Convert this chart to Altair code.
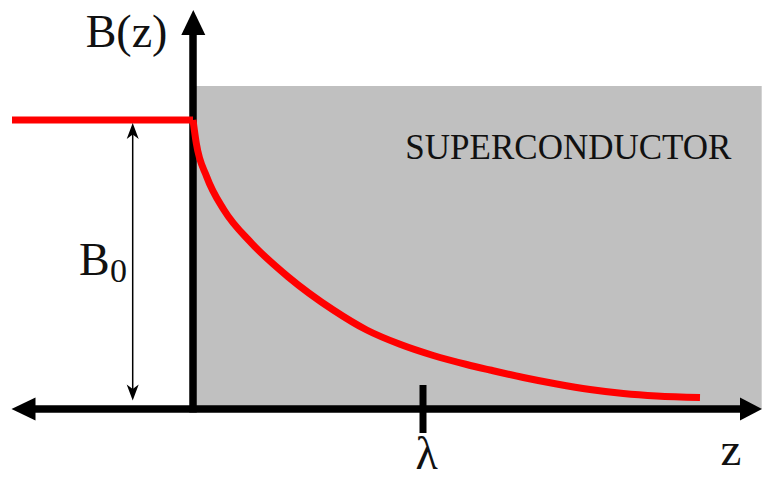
import altair as alt
import pandas as pd

# ---- values (z: horizontal, B: field height above the z axis) ----
flat_z = [-181, 0]
flat_B = [289, 289]

curve_z = [0, 3.3, 13.7, 31, 58.7, 95, 140.3, 173.7, 207, 240.3, 273.7, 297, 330.3, 363.7, 397, 430.3, 463.7, 507]
curve_B = [289, 265.7, 232.3, 199, 165.7, 132.3, 99, 79, 64.7, 53.5, 44.5, 39, 31.5, 25, 19.5, 15.5, 13, 11.5]

region_z = [0, 568.7]          # superconductor region
region_B = [0, 323]

axis_z = [-160, 550]            # horizontal axis shaft
axis_B_top = 380                # vertical axis shaft top
lambda_z = 230                  # position of the lambda tick
b0_arrow_z = -60.3              # B0 double arrow
b0_arrow_B = [16, 280]

arrow_kind = ["up", "left", "right", "sup", "sdown"]
arrow_z = [0.3, -169.5, 558, -60.3, -60.3]
arrow_B = [386.5, 0, 0, 278, 16.5]
arrow_size = [625, 576, 484, 256, 256]

labels = ["B(z)", "z", "λ", "SUPERCONDUCTOR"]
label_z = [-66.5, 538, 233.7, 375.4]
label_B = [362, -56, -60, 250]
label_size = [46, 47, 46, 35]

XD = [-185, 569]
YD = [-63, 401]


def X(f="z"):
    return alt.X(f"{f}:Q", scale=alt.Scale(domain=XD, nice=False, zero=False), axis=None)


def Y(f="B"):
    return alt.Y(f"{f}:Q", scale=alt.Scale(domain=YD, nice=False, zero=False), axis=None)


region = alt.Chart(pd.DataFrame({"z": [region_z[0]], "z2": [region_z[1]],
                                 "B": [region_B[0]], "B2": [region_B[1]]})).mark_rect(
    color="#c0c0c0").encode(x=X(), x2="z2:Q", y=Y(), y2="B2:Q")

rules_df = pd.DataFrame({
    "z": [axis_z[0], 0, lambda_z],
    "z2": [axis_z[1], 0, lambda_z],
    "B": [0, -3.5, -24],
    "B2": [0, axis_B_top, 24],
    "w": [7.5, 7.5, 7],
})
axes = alt.Chart(rules_df).mark_rule(color="black").encode(
    x=X(), x2="z2:Q", y=Y(), y2="B2:Q",
    strokeWidth=alt.StrokeWidth("w:Q", scale=None))

flat = alt.Chart(pd.DataFrame({"z": flat_z, "B": flat_B})).mark_line(
    color="#ff0000", strokeWidth=7, strokeCap="butt").encode(x=X(), y=Y(), order="z:Q")

curve = alt.Chart(pd.DataFrame({"z": curve_z, "B": curve_B})).mark_line(
    color="#ff0000", strokeWidth=7, strokeCap="butt", interpolate="monotone").encode(
    x=X(), y=Y(), order="z:Q")

b0_line = alt.Chart(pd.DataFrame({"z": [b0_arrow_z], "B": [b0_arrow_B[0]], "B2": [b0_arrow_B[1]]})).mark_rule(
    color="black", strokeWidth=1.5).encode(x=X(), y=Y(), y2="B2:Q")

paths = {
    "up": "M0,-1L0.96,1L-0.96,1Z",
    "left": "M-1,0L1,-0.96L1,0.96Z",
    "right": "M1,0L-1,-1.05L-1,1.05Z",
    "sup": "M0,-1L0.75,1L0,0.45L-0.75,1Z",
    "sdown": "M0,1L0.75,-1L0,-0.45L-0.75,-1Z",
}
arrows = alt.Chart(pd.DataFrame({"kind": arrow_kind, "z": arrow_z, "B": arrow_B, "s": arrow_size})).mark_point(
    filled=True, opacity=1, color="black", strokeWidth=0).encode(
    x=X(), y=Y(),
    shape=alt.Shape("kind:N", scale=alt.Scale(domain=list(paths.keys()), range=list(paths.values())), legend=None),
    size=alt.Size("s:Q", scale=None))

texts = alt.Chart(pd.DataFrame({"t": labels, "z": label_z, "B": label_B, "s": label_size})).mark_text(
    font="Liberation Serif", align="center", baseline="alphabetic", color="#111111").encode(
    x=X(), y=Y(), text="t:N", size=alt.Size("s:Q", scale=None))

b_text = alt.Chart(pd.DataFrame({"t": ["B"], "z": [-114], "B": [134]})).mark_text(
    font="Liberation Serif", fontSize=46, align="left", baseline="alphabetic", color="#111111").encode(
    x=X(), y=Y(), text="t:N")
sub_text = alt.Chart(pd.DataFrame({"t": ["0"], "z": [-83], "B": [127]})).mark_text(
    font="Liberation Serif", fontSize=34, align="left", baseline="alphabetic", color="#111111").encode(
    x=X(), y=Y(), text="t:N")

chart = alt.layer(region, axes, flat, curve, b0_line, arrows, texts, b_text, sub_text).properties(
    width=754, height=464,
    autosize=alt.AutoSizeParams(type="none"),
    padding=0,
    background="white",
).configure_view(stroke=None)

chart.save("out.html", embed_options={"renderer": "svg", "actions": False})
